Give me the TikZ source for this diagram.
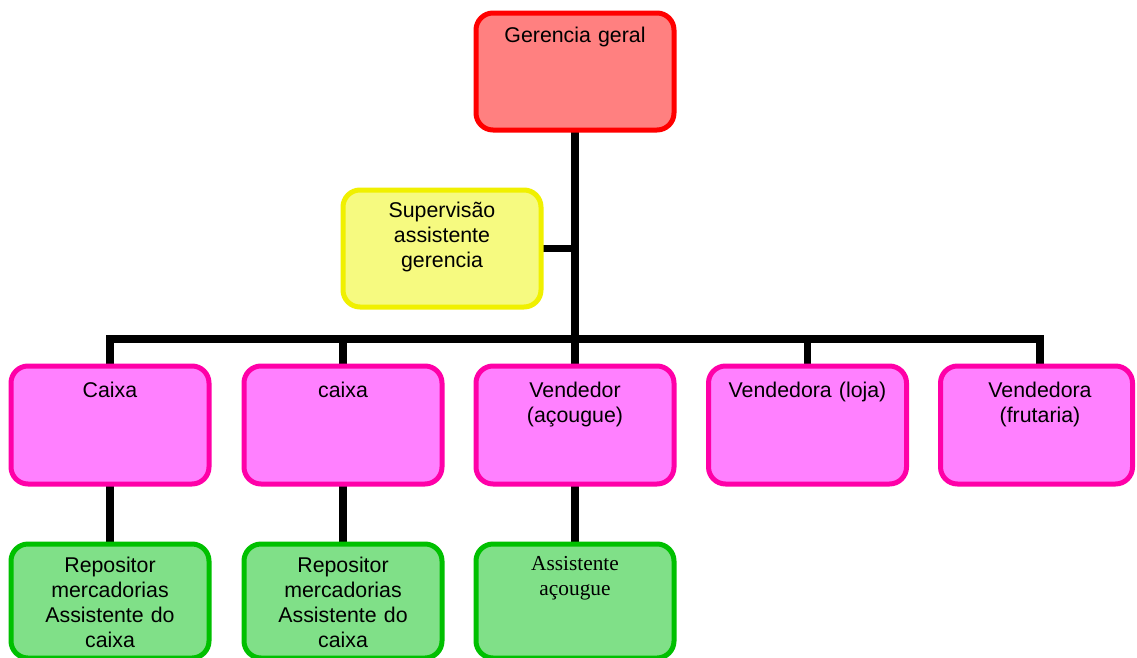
\documentclass[tikz,border=0pt]{standalone}
\usepackage{fontspec}
\setmainfont{Liberation Sans}
\newfontfamily\timesfont{Liberation Serif}
\usetikzlibrary{backgrounds}
\definecolor{redline}{HTML}{FF0000}
\definecolor{redfill}{HTML}{FF8080}
\definecolor{yelline}{HTML}{F0F000}
\definecolor{yelfill}{HTML}{F6FA80}
\definecolor{pinkline}{HTML}{FF00A8}
\definecolor{pinkfill}{HTML}{FF80FF}
\definecolor{greenline}{HTML}{00C000}
\definecolor{greenfill}{HTML}{80E088}
\begin{document}
\begin{tikzpicture}[x=0.75pt,y=-0.75pt,
  box/.style={draw, line width=3.75pt, rounded corners=12.75pt, minimum width=148.5pt, inner sep=0pt, outer sep=0pt},
  bossbox/.style={box, draw=redline, fill=redfill, minimum height=87.75pt},
  supbox/.style={box, draw=yelline, fill=yelfill, minimum height=87.75pt},
  midbox/.style={box, draw=pinkline, fill=pinkfill, minimum height=88.5pt},
  lowbox/.style={box, draw=greenline, fill=greenfill, minimum height=85.5pt},
  boxtext/.style={anchor=base, text width=150pt, align=center, inner sep=0pt, font=\fontsize{16pt}{18.75pt}\selectfont},
  link/.style={line width=5.6pt, line join=miter, draw=black}]
\useasboundingbox (0,0) rectangle (1137,657);

% boxes
\node[bossbox] (g) at (575,71.5) {};
\node[supbox] (s) at (442,248.5) {};
\node[midbox] (c1) at (110,425) {};
\node[midbox] (c2) at (343,425) {};
\node[midbox] (c3) at (575,425) {};
\node[midbox] (c4) at (807.5,425) {};
\node[midbox, minimum width=144pt] (c5) at (1036.5,425) {};
\node[lowbox] (r1) at (110,601) {};
\node[lowbox] (r2) at (343,601) {};
\node[lowbox] (r3) at (575,601) {};

% texts
\node[boxtext] (gt) at (575,42) {Gerencia geral};
\node[boxtext] (st) at (442,217) {Supervisão\\assistente\\gerencia};
\node[boxtext] (c1t) at (110,397) {Caixa};
\node[boxtext] (c2t) at (343,397) {caixa};
\node[boxtext] (c3t) at (575,397) {Vendedor\\(açougue)};
\node[boxtext] (c4t) at (807.5,397) {Vendedora (loja)};
\node[boxtext] (c5t) at (1040,397) {Vendedora\\(frutaria)};
\node[boxtext] (r1t) at (110,572) {Repositor\\mercadorias\\Assistente do\\caixa};
\node[boxtext] (r2t) at (343,572) {Repositor\\mercadorias\\Assistente do\\caixa};
\node[boxtext, font=\timesfont\fontsize{16pt}{19pt}\selectfont] (r3t) at (575,570) {Assistente\\açougue};

% connectors
\begin{scope}[on background layer]
  \fill[white] (0,0) rectangle (1137,657);
  \coordinate (bar) at (575,339);
  \coordinate (c5tap) at (1040,366);
  \draw[link] (g.south) -- (c3.north);
  \draw[link] (s.east) -- (s.east -| g.south);
  \draw[link] (c1.north) |- (bar) -| (c5tap);
  \draw[link] (c2.north) -- (c2.north |- bar);
  \draw[link] (c4.north) -- (c4.north |- bar);
  \draw[link] (c1.south) -- (r1.north);
  \draw[link] (c2.south) -- (r2.north);
  \draw[link] (c3.south) -- (r3.north);
\end{scope}
\end{tikzpicture}
\end{document}
